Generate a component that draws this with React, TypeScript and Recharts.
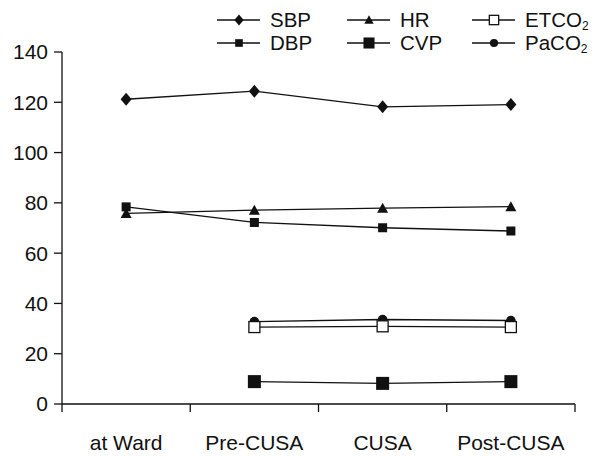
import { Line, LineChart, XAxis, YAxis } from "recharts";

const stages = ["at Ward", "Pre-CUSA", "CUSA", "Post-CUSA"];
const sbp = [121.2, 124.4, 118.2, 119.1];
const dbp = [78.4, 72.2, 70.1, 68.8];
const hr = [75.8, 77.1, 77.9, 78.5];
const cvp = [null, 8.9, 8.2, 8.9];
const paco2 = [null, 32.8, 33.6, 33.2];
const etco2 = [null, 30.6, 30.9, 30.6];
const yTicks = [0, 20, 40, 60, 80, 100, 120, 140];

const data = stages.map((name, i) => ({
  x: i + 0.5,
  name,
  sbp: sbp[i],
  dbp: dbp[i],
  hr: hr[i],
  cvp: cvp[i],
  paco2: paco2[i],
  etco2: etco2[i],
}));

const xTicks = [0, 0.5, 1, 1.5, 2, 2.5, 3, 3.5, 4];
const FONT = "'Liberation Sans', Arial, sans-serif";
const INK = "#111";

type Kind = "diamond" | "triangle" | "smallSquare" | "bigSquare" | "openSquare" | "circle";

function Marker({ kind, cx, cy, s = 1 }: { kind: Kind; cx: number; cy: number; s?: number }) {
  if (cx == null || cy == null) return null;
  switch (kind) {
    case "diamond":
      return (
        <polygon
          points={`${cx},${cy - 6.5 * s} ${cx + 5.5 * s},${cy} ${cx},${cy + 6.5 * s} ${cx - 5.5 * s},${cy}`}
          fill={INK}
        />
      );
    case "triangle":
      return (
        <polygon
          points={`${cx},${cy - 5.5 * s} ${cx + 5.5 * s},${cy + 4.5 * s} ${cx - 5.5 * s},${cy + 4.5 * s}`}
          fill={INK}
        />
      );
    case "smallSquare":
      return <rect x={cx - 4.5 * s} y={cy - 4.5 * s} width={9 * s} height={9 * s} fill={INK} />;
    case "bigSquare":
      return <rect x={cx - 6.5 * s} y={cy - 6.5 * s} width={13 * s} height={13 * s} fill={INK} />;
    case "openSquare":
      return (
        <rect
          x={cx - 5.5 * s}
          y={cy - 5.5 * s}
          width={11 * s}
          height={11 * s}
          fill="#fff"
          stroke={INK}
          strokeWidth={1.3}
        />
      );
    case "circle":
      return <circle cx={cx} cy={cy} r={4.8 * s} fill={INK} />;
  }
}

const dotFor = (kind: Kind) => (props: any) =>
  <Marker key={`${kind}-${props.index}`} kind={kind} cx={props.cx} cy={props.cy} />;

function XTick(props: any) {
  const { x, y, payload } = props;
  const v = payload.value as number;
  if (Number.isInteger(v)) {
    return <line x1={x} x2={x} y1={y} y2={y + 8} stroke={INK} strokeWidth={1.3} />;
  }
  return (
    <text x={x} y={y + 46} textAnchor="middle" fontSize={21} fill={INK} fontFamily={FONT}>
      {stages[Math.floor(v)]}
    </text>
  );
}

const legendItems: { label: string; sub?: string; kind: Kind; col: number; row: number }[] = [
  { label: "SBP", kind: "diamond", col: 0, row: 0 },
  { label: "HR", kind: "triangle", col: 1, row: 0 },
  { label: "ETCO", sub: "2", kind: "openSquare", col: 2, row: 0 },
  { label: "DBP", kind: "smallSquare", col: 0, row: 1 },
  { label: "CVP", kind: "bigSquare", col: 1, row: 1 },
  { label: "PaCO", sub: "2", kind: "circle", col: 2, row: 1 },
];
const legendCols = [217, 347, 472];
const legendRows = [20, 43];

function ChartLegend() {
  return (
    <svg width={602} height={60} style={{ position: "absolute", left: 0, top: 0 }}>
      {legendItems.map((it) => {
        const x0 = legendCols[it.col];
        const y = legendRows[it.row];
        return (
          <g key={it.label}>
            <line x1={x0} x2={x0 + 43} y1={y} y2={y} stroke={INK} strokeWidth={1.3} />
            <Marker kind={it.kind} cx={x0 + 22} cy={y} s={0.85} />
            <text x={x0 + 53} y={y + 7} fontSize={20.5} fill={INK} fontFamily={FONT}>
              {it.label}
              {it.sub && (
                <tspan fontSize={12} dy={3}>
                  {it.sub}
                </tspan>
              )}
            </text>
          </g>
        );
      })}
    </svg>
  );
}

export default function App() {
  const common = { stroke: INK, strokeWidth: 1.3, isAnimationActive: false, connectNulls: false };
  return (
    <div style={{ position: "absolute", left: 0, top: 0, width: 602, height: 456, background: "#fff" }}>
      <LineChart width={602} height={456} data={data} margin={{ top: 52, right: 27, bottom: 0, left: 0 }}>
        <XAxis
          dataKey="x"
          type="number"
          domain={[0, 4]}
          ticks={xTicks}
          interval={0}
          height={52}
          tickLine={false}
          tickSize={0}
          tickMargin={0}
          tick={<XTick />}
          axisLine={{ stroke: INK, strokeWidth: 1.3 }}
        />
        <YAxis
          domain={[0, 140]}
          ticks={yTicks}
          interval={0}
          width={62}
          tickSize={8}
          tickMargin={6}
          tick={{ fontSize: 21, fill: INK, fontFamily: FONT }}
          tickLine={{ stroke: INK, strokeWidth: 1.3 }}
          axisLine={{ stroke: INK, strokeWidth: 1.3 }}
        />
        <Line dataKey="sbp" type="linear" {...common} dot={dotFor("diamond")} />
        <Line dataKey="dbp" type="linear" {...common} dot={dotFor("smallSquare")} />
        <Line dataKey="hr" type="linear" {...common} dot={dotFor("triangle")} />
        <Line dataKey="cvp" type="linear" {...common} dot={dotFor("bigSquare")} />
        <Line dataKey="paco2" type="linear" {...common} dot={dotFor("circle")} />
        <Line dataKey="etco2" type="linear" {...common} dot={dotFor("openSquare")} />
      </LineChart>
      <ChartLegend />
    </div>
  );
}
